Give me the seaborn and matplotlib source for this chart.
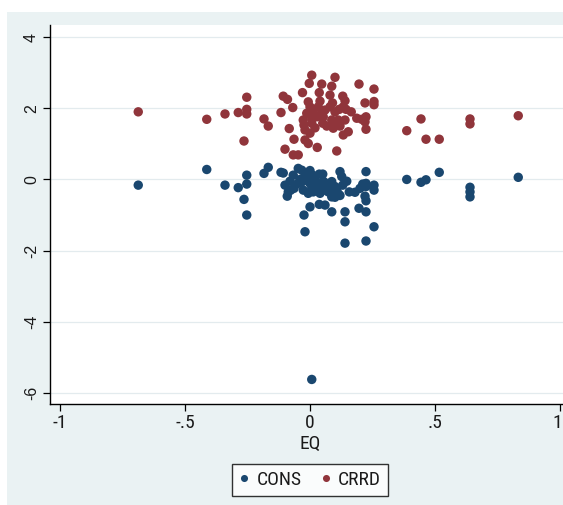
import numpy as np
import pandas as pd
import matplotlib
matplotlib.use('Agg')
import matplotlib.pyplot as plt
import matplotlib.transforms as mtransforms
import seaborn as sns
from matplotlib import font_manager

# values
cons_eq = [-0.687, -0.413, -0.34, -0.287, -0.253, -0.253, -0.264, -0.253, -0.184, -0.167,
           -0.116, -0.107, -0.10, -0.091, -0.087, -0.077, -0.067, -0.064, -0.047, -0.033,
           -0.02, -0.013, -0.03, -0.027, 0.0, 0.007, 0.013, -0.007, 0.027, 0.037,
           0.051, 0.047, 0.04, 0.067, 0.08, 0.087, 0.073, 0.093, 0.10, 0.087,
           0.12, 0.127, 0.131, 0.157, 0.18, 0.20, 0.211, 0.224, 0.224, 0.224,
           0.22, 0.224, 0.256, 0.256, 0.0, 0.037, 0.06, 0.087, -0.024, -0.02,
           0.14, 0.14, 0.196, 0.224, 0.256, 0.14, 0.224, 0.387, 0.444, 0.464,
           0.517, 0.64, 0.64, 0.64, 0.833, 0.007, -0.04, 0.02, 0.053, 0.107,
           0.113, 0.147, -0.05, 0.0, 0.01, 0.03, 0.06, 0.10, 0.12, -0.08]
cons_val = [-0.16, 0.28, -0.16, -0.23, 0.12, -0.13, -0.56, -1.00, 0.17, 0.34,
            0.20, 0.18, -0.16, -0.47, -0.35, -0.30, 0.12, -0.25, 0.31, 0.26,
            0.17, 0.03, -0.06, -0.30, -0.11, -0.25, -0.35, -0.39, -0.16, 0.15,
            0.15, -0.21, -0.39, -0.11, -0.21, -0.06, -0.35, -0.39, -0.50, -0.49,
            0.22, 0.08, -0.16, -0.35, -0.36, -0.25, -0.13, 0.22, -0.11, -0.20,
            -0.47, -0.60, -0.16, -0.30, -0.77, -0.70, -0.72, -0.91, -1.00, -1.47,
            -0.91, -1.19, -0.81, -0.91, -1.33, -1.79, -1.73, 0.00, -0.08, -0.01,
            0.20, -0.22, -0.35, -0.49, 0.06, -5.62, 0.00, 0.00, -0.05, -0.27,
            -0.40, -0.05, -0.12, 0.25, 0.12, -0.30, -0.30, -0.20, -0.45, -0.05]

crrd_eq = [-0.687, -0.413, -0.34, -0.287, -0.253, -0.253, -0.253, -0.264, -0.184, -0.167,
           -0.116, -0.107, -0.09, -0.069, -0.083, -0.064, -0.10, -0.067, -0.047, 0.007,
           -0.003, 0.10, 0.047, 0.087, 0.196, 0.256, -0.03, 0.037, 0.08, 0.131,
           0.14, 0.22, 0.256, 0.256, -0.007, 0.0, -0.013, 0.013, 0.033, 0.047,
           0.06, 0.08, 0.10, 0.117, 0.133, 0.144, -0.027, -0.024, -0.02, 0.007,
           0.007, 0.027, 0.051, 0.053, 0.087, 0.093, 0.10, 0.113, 0.14, 0.187,
           0.207, 0.224, 0.22, 0.224, 0.133, 0.153, -0.02, -0.007, 0.029, 0.107,
           0.387, 0.444, 0.464, 0.517, 0.64, 0.64, 0.833, 0.02, 0.067, 0.12,
           0.0, 0.04, 0.09, 0.165]
crrd_val = [1.90, 1.69, 1.84, 1.88, 2.31, 1.97, 1.84, 1.08, 1.70, 1.50,
            1.88, 2.34, 2.25, 2.02, 1.43, 1.13, 0.85, 0.69, 0.69, 2.93,
            2.70, 2.87, 2.68, 2.62, 2.68, 2.54, 2.44, 2.44, 2.37, 2.34,
            2.21, 2.15, 2.19, 2.10, 2.18, 2.04, 1.86, 1.90, 2.04, 1.86,
            1.95, 2.04, 1.90, 1.97, 2.04, 1.97, 1.67, 1.53, 1.39, 1.72,
            1.58, 1.76, 1.58, 1.76, 1.67, 1.44, 1.58, 1.67, 1.67, 1.72,
            1.69, 1.76, 1.62, 1.41, 1.25, 1.34, 1.11, 1.01, 0.90, 0.80,
            1.37, 1.70, 1.13, 1.13, 1.70, 1.56, 1.79, 1.45, 1.50, 1.50,
            1.30, 2.20, 2.15, 1.90]

x_ticks = [-1, -0.5, 0, 0.5, 1]
x_ticklabels = ['-1', '-.5', '0', '.5', '1']
y_ticks = [-6, -4, -2, 0, 2, 4]
y_ticklabels = ['-6', '-4', '-2', '0', '2', '4']

df = pd.concat([
    pd.DataFrame({'EQ': cons_eq, 'val': cons_val, 'series': 'CONS'}),
    pd.DataFrame({'EQ': crrd_eq, 'val': crrd_val, 'series': 'CRRD'}),
], ignore_index=True)

sns.set_style('white')

# pick a narrow sans if one is installed (the reference text is squeezed)
ttf = font_manager.fontManager.ttflist
names = {f.name for f in ttf}
fam, stretch = 'Liberation Sans', 'normal'
for cand in ['Liberation Sans Narrow', 'Arial Narrow', 'Roboto Condensed', 'Open Sans Condensed',
             'Noto Sans Condensed', 'DejaVu Sans Condensed']:
    if cand in names:
        fam = cand
        break
else:
    for base in ['Noto Sans', 'DejaVu Sans', 'Open Sans', 'Roboto']:
        st = [f.stretch for f in ttf if f.name == base and 'condensed' in str(f.stretch)
              and f.weight in (400, 'normal', 'regular') and f.style == 'normal']
        if st:
            fam, stretch = base, st[0]
            break
plt.rcParams['font.family'] = [fam, 'DejaVu Sans']
plt.rcParams['font.stretch'] = stretch

navy = '#1A476F'
maroon = '#90353B'
panel = '#EAF2F3'
txt = '#1a1a1a'

fig = plt.figure(figsize=(5.63, 5.05), dpi=100, facecolor='white')
fig.patches.append(plt.Rectangle((7 / 563, 0), 1, 493 / 505, transform=fig.transFigure,
                                 facecolor=panel, edgecolor='none', zorder=-10))
ax = fig.add_axes([50 / 563, 101 / 505, 520 / 563, 379 / 505])
ax.set_facecolor('white')

sns.scatterplot(data=df, x='EQ', y='val', hue='series', palette=[navy, maroon],
                s=46, linewidth=0, alpha=1, ax=ax, zorder=3)

ax.set_xlim(-1.04, 1.04)
ax.set_ylim(-6.31, 4.34)
ax.set_xticks(x_ticks)
ax.set_xticklabels(x_ticklabels)
ax.set_yticks(y_ticks)
ax.set_yticklabels(y_ticklabels, rotation=90, va='center', family='Liberation Sans',
                   stretch='normal')
ax.yaxis.grid(True, color='#E3EBEE', linewidth=0.9)
ax.set_axisbelow(True)

for s in ['top', 'right']:
    ax.spines[s].set_visible(False)
for s in ['left', 'bottom']:
    ax.spines[s].set_color('black')
    ax.spines[s].set_linewidth(1.0)

ax.tick_params(axis='both', direction='out', length=5, width=0.9, color='black',
               labelcolor=txt)
ax.tick_params(axis='x', pad=2, labelsize=14)
ax.tick_params(axis='y', pad=3, labelsize=11.5)
ax.tick_params(left=True, bottom=True)
# keep the "1" at the right edge inside the picture
last = ax.get_xticklabels()[-1]
last.set_transform(last.get_transform() + mtransforms.ScaledTranslation(-3 / 100, 0, fig.dpi_scale_trans))

ax.set_xlabel('EQ', fontsize=14, labelpad=2, color=txt)
ax.set_ylabel('')

handles, labels = ax.get_legend_handles_labels()
ax.get_legend().remove()
leg = fig.legend(handles, labels, loc='center', bbox_to_anchor=(310 / 563, 25 / 505),
                 ncol=2, frameon=True, fancybox=False, fontsize=14, markerscale=0.75,
                 handlelength=0.5, handletextpad=0.4, columnspacing=1.0,
                 borderpad=0.35, borderaxespad=0, labelcolor=txt)
leg.get_frame().set_edgecolor('black')
leg.get_frame().set_linewidth(1.0)
leg.get_frame().set_facecolor('white')

fig.savefig('out.png', dpi=100, facecolor=fig.get_facecolor())
